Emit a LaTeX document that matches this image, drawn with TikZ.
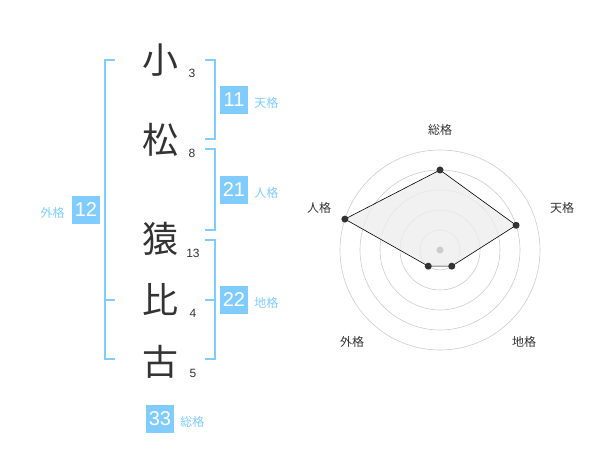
\documentclass[tikz,border=0pt]{standalone}
\usepackage{fontspec}
\setmainfont{Liberation Sans}
\newfontfamily\jpfont{Noto Sans CJK JP}
\usetikzlibrary{positioning}
\definecolor{skyline}{RGB}{128,204,255}
\definecolor{inkgray}{RGB}{51,51,51}
\tikzstyle{kanji} = [text=inkgray, font=\jpfont\fontsize{36}{36}\selectfont, inner sep=0pt]
\tikzstyle{strokes} = [text=inkgray, font=\fontsize{12}{12}\selectfont, inner sep=0pt]
\tikzstyle{score} = [fill=skyline, text=white, minimum size=28pt, inner sep=0pt, font=\fontsize{20}{20}\selectfont]
\tikzstyle{kaku} = [text=skyline, font=\jpfont\fontsize{12}{12}\selectfont, inner sep=0pt]
\tikzstyle{bracket} = [draw=skyline, line width=1.5pt]
\tikzstyle{ring} = [draw=black!20, line width=0.6pt]
\tikzstyle{axislabel} = [text=inkgray, font=\jpfont\fontsize{12}{12}\selectfont, inner sep=0pt]
\tikzstyle{dot} = [circle, fill=inkgray, inner sep=0pt, minimum size=7pt]

\begin{document}
\begin{tikzpicture}[x=1pt, y=-1pt, node distance=6pt]
        \useasboundingbox (0,0) rectangle (600,470);
        % name column
        \node[kanji] (ko) at (160,60) {小};
        \node[kanji] (matsu) at (160,140) {松};
        \node[kanji] (saru) at (160,239) {猿};
        \node[kanji] (hi) at (160,300) {比};
        \node[kanji] (furu) at (160,362) {古};
        \node[strokes] (n1) at (192,73) {3};
        \node[strokes] (n2) at (192,153) {8};
        \node[strokes] (n3) at (193,253) {13};
        \node[strokes] (n4) at (193,313) {4};
        \node[strokes] (n5) at (193,373) {5};
        % brackets
        \draw[bracket] (115,60) -- (105,60) -- (105,359) -- (115,359);
        \draw[bracket] (105,300) -- (115,300);
        \draw[bracket] (205,60) -- (215,60) -- (215,139) -- (205,139);
        \draw[bracket] (205,149) -- (215,149) -- (215,230) -- (205,230);
        \draw[bracket] (205,240) -- (215,240) -- (215,359) -- (205,359);
        \draw[bracket] (205,300) -- (215,300);
        % scores
        \node[score] (ten) at (234,100) {11};
        \node[kaku, right=of ten, yshift=-3pt] (tenlabel) {天格};
        \node[score] (jin) at (234,190) {21};
        \node[kaku, right=of jin, yshift=-3pt] (jinlabel) {人格};
        \node[score] (chi) at (234,300) {22};
        \node[kaku, right=of chi, yshift=-3pt] (chilabel) {地格};
        \node[score] (gai) at (86,210) {12};
        \node[kaku, left=7pt of gai, yshift=-3pt] (gailabel) {外格};
        \node[score] (sou) at (160,419) {33};
        \node[kaku, right=of sou, yshift=-3pt] (soulabel) {総格};
        % radar
        \coordinate (c) at (440,250);
        \foreach \r in {20,40,60,80,100}
            \draw[ring] (c) circle (\r);
        \node[axislabel] (lsou) at (440,130) {総格};
        \node[axislabel] (lten) at (562,208) {天格};
        \node[axislabel] (lchi) at (524,342) {地格};
        \node[axislabel] (lgai) at (352,342) {外格};
        \node[axislabel] (ljin) at (319,208) {人格};
        \coordinate (psou) at ([shift={(-90:80)}]c);
        \coordinate (pten) at ([shift={(-18:80)}]c);
        \coordinate (pchi) at ([shift={(54:20)}]c);
        \coordinate (pgai) at ([shift={(126:20)}]c);
        \coordinate (pjin) at ([shift={(-162:100)}]c);
        \path[fill=black!7, fill opacity=0.8, draw=black, line width=0.6pt] (psou) -- (pten) -- (pchi) -- (pgai) -- (pjin) -- cycle;
        \node[circle, fill=black!20, inner sep=0pt, minimum size=7pt] (mid) at (c) {};
        \node[dot] (dsou) at (psou) {};
        \node[dot] (dten) at (pten) {};
        \node[dot] (dchi) at (pchi) {};
        \node[dot] (dgai) at (pgai) {};
        \node[dot] (djin) at (pjin) {};
    \end{tikzpicture}
\end{document}
